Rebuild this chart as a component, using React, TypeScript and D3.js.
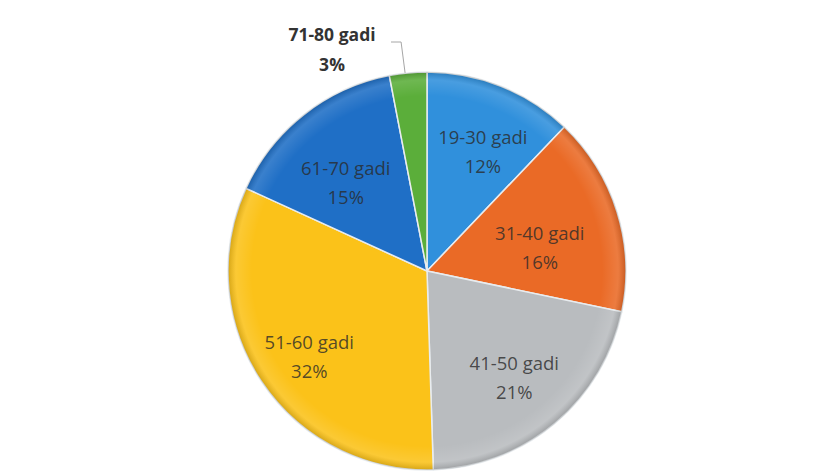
import React from "react";
import * as d3 from "d3";

const categories = ["19-30 gadi", "31-40 gadi", "41-50 gadi", "51-60 gadi", "61-70 gadi", "71-80 gadi"];
const values = [12, 16, 21, 32, 15, 3];
const colors = ["#3090dc", "#ea6a26", "#b9bcbf", "#fbc219", "#1f6fc6", "#5bae3a"];

const W = 832;
const H = 472;
const cx = 427;
const cy = 271;
const R = 199;
// label nudges relative to the default centroid (layout only)
const labelNudge: [number, number][] = [
  [10, -8],
  [-5, 10],
  [8, 8],
  [-15, 14],
  [-5, 5],
  [0, 0],
];

export default function App() {
  const pie = d3.pie<number>().sort(null).value((d) => d)(values);
  const arc = d3.arc<d3.PieArcDatum<number>>().innerRadius(0).outerRadius(R);
  const labelArc = d3.arc<d3.PieArcDatum<number>>().innerRadius(R * 0.62).outerRadius(R * 0.62);
  const font = "'Open Sans', 'Liberation Sans', sans-serif";

  return (
    <svg width={W} height={H} style={{ position: "absolute", left: 0, top: 0, background: "#fff" }}>
      <defs>
        <radialGradient id="shade" cx="50%" cy="50%" r="50%">
          <stop offset="0%" stopColor="#fff" stopOpacity={0} />
          <stop offset="88%" stopColor="#fff" stopOpacity={0} />
          <stop offset="96%" stopColor="#fff" stopOpacity={0.12} />
          <stop offset="100%" stopColor="#000" stopOpacity={0.15} />
        </radialGradient>
      </defs>
      <g transform={`translate(${cx},${cy})`}>
        {pie.map((p, i) => (
          <path key={i} d={arc(p) || ""} fill={colors[i]} stroke="#e8ecef" strokeWidth={1.5} />
        ))}
        <circle r={R} fill="url(#shade)" />
        {pie.map((p, i) => {
          if (i === 5) return null;
          const [x0, y0] = labelArc.centroid(p);
          const x = x0 + labelNudge[i][0];
          const y = y0 + labelNudge[i][1];
          return (
            <text key={i} x={x} y={y} textAnchor="middle" fontFamily={font} fontSize={18.5} fill="#2a2a2a" fillOpacity={0.8}>
              <tspan x={x} dy={-4}>{categories[i]}</tspan>
              <tspan x={x} dy={29}>{values[i]}%</tspan>
            </text>
          );
        })}
        {(() => {
          const p = pie[5];
          const mid = (p.startAngle + p.endAngle) / 2;
          const ex = Math.sin(mid) * R;
          const ey = -Math.cos(mid) * R;
          const lx = -95;
          const ly = -229;
          return (
            <g>
              <polyline
                points={`${lx + 59},${ly} ${ex - 7},${ly} ${ex - 3},${ey}`}
                fill="none"
                stroke="#a6a6a6"
                strokeWidth={1}
              />
              <text x={lx} y={ly} textAnchor="middle" fontFamily={font} fontSize={17.5} fontWeight="bold" fill="#333">
                <tspan x={lx} dy={-1}>{categories[5]}</tspan>
                <tspan x={lx} dy={30}>{values[5]}%</tspan>
              </text>
            </g>
          );
        })()}
      </g>
    </svg>
  );
}
